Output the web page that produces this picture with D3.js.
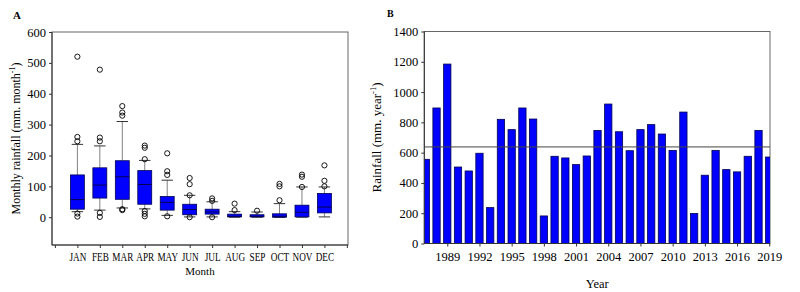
<!DOCTYPE html>
<html>
<head>
<meta charset="utf-8">
<script src="https://cdn.jsdelivr.net/npm/d3@7"></script>
<style>
  html, body { margin: 0; padding: 0; background: #fff; }
  svg text { font-family: "Liberation Serif", "Times New Roman", serif; fill: #000; }
</style>
</head>
<body>
<div id="chart"></div>
<script>
/* =========================
   Data
========================= */
// Panel A: monthly rainfall box plots (mm/month)
const months = ["JAN", "FEB", "MAR", "APR", "MAY", "JUN", "JUL", "AUG", "SEP", "OCT", "NOV", "DEC"];
const q1 = [26, 62, 58, 42, 23, 8, 10, 1, 1, 0, 1, 14];
const medians = [57, 104, 131, 106, 48, 25, 17, 3, 3, 3, 16, 33];
const q3 = [137, 160, 183, 151, 67, 42, 26, 10, 8, 11, 39, 77];
const whiskerLow = [18, 23, 30, 27, 6, 1, 1, 0, 0, 0, 0, 1];
const whiskerHigh = [236, 231, 310, 184, 120, 71, 50, 18, 17, 44, 98, 98];
const outliers = [
    [520, 260, 246, 12, 2],
    [478, 258, 246, 14, 1],
    [360, 339, 329, 26, 23],
    [232, 225, 188, 20, 11, 3],
    [207, 149, 137, 3],
    [127, 107, 71, 0],
    [61, 53, 0],
    [44, 23],
    [21],
    [108, 100, 55],
    [138, 131, 98],
    [168, 118, 100]
];
const monthTicksA = [0, 100, 200, 300, 400, 500, 600];

// Panel B: annual rainfall (mm/year)
const years = [1987, 1988, 1989, 1990, 1991, 1992, 1993, 1994, 1995, 1996, 1997,
    1998, 1999, 2000, 2001, 2002, 2003, 2004, 2005, 2006, 2007, 2008,
    2009, 2010, 2011, 2012, 2013, 2014, 2015, 2016, 2017, 2018, 2019];
const annualRain = [556, 895, 1185, 505, 479, 596, 237, 820, 752, 895, 822,
    182, 576, 565, 521, 578, 747, 921, 738, 613, 752, 785,
    723, 615, 868, 198, 451, 615, 488, 473, 576, 747, 571];
const yearTicks = [1989, 1992, 1995, 1998, 2001, 2004, 2007, 2010, 2013, 2016, 2019];
const rainTicksB = [0, 200, 400, 600, 800, 1000, 1200, 1400];

/* =========================
   SVG
========================= */
const W = 800, H = 292;
const svg = d3.select("#chart").append("svg")
    .attr("width", W).attr("height", H);
svg.append("rect").attr("width", W).attr("height", H).attr("fill", "#fff");

const BLUE = "#0000ff";
const FRAME = "#666";

function styleAxis(g) {
    g.select(".domain").remove();
    g.selectAll(".tick line").attr("stroke", "#333");
    g.selectAll(".tick text").attr("fill", "#000");
}

/* =========================
   Panel A: box plots
========================= */
const A = { left: 52, right: 348, top: 32, bottom: 245 };
const xA = d3.scaleLinear().domain([-0.13, 13.05]).range([A.left, A.right]);
const yA = d3.scaleLinear().domain([-90, 600]).range([A.bottom, A.top]);

const gA = svg.append("g");

gA.append("rect")
    .attr("x", A.left).attr("y", A.top)
    .attr("width", A.right - A.left).attr("height", A.bottom - A.top)
    .attr("fill", "none").attr("stroke", FRAME).attr("stroke-width", 1);

const yAxisA = gA.append("g")
    .attr("transform", `translate(${A.left},0)`)
    .call(d3.axisLeft(yA).tickValues(monthTicksA).tickSize(3).tickPadding(3));
styleAxis(yAxisA);
yAxisA.selectAll(".tick text").attr("font-size", 12.5);

const xAxisA = gA.append("g")
    .attr("transform", `translate(0,${A.bottom})`)
    .call(d3.axisBottom(xA)
        .tickValues(d3.range(0, 14))
        .tickFormat(i => (i >= 1 && i <= 12) ? months[i - 1] : "")
        .tickSize(3).tickPadding(5));
styleAxis(xAxisA);
// month labels look narrow in the original figure
xAxisA.selectAll(".tick text")
    .attr("font-size", 11.5)
    .attr("transform", "scale(0.8,1)");

gA.append("line")
    .attr("x1", A.left).attr("x2", A.left).attr("y1", A.top).attr("y2", A.bottom)
    .attr("stroke", "#333");
gA.append("line")
    .attr("x1", A.left).attr("x2", A.right).attr("y1", A.bottom).attr("y2", A.bottom)
    .attr("stroke", "#333");

const step = xA(1) - xA(0);
const boxW = step * 0.62;
const capW = boxW * 0.82;

const boxes = gA.selectAll(".box")
    .data(months.map((m, i) => ({
        i: i + 1, q1: q1[i], med: medians[i], q3: q3[i],
        lo: whiskerLow[i], hi: whiskerHigh[i], out: outliers[i]
    })))
    .enter().append("g").attr("class", "box");

// whiskers
boxes.append("line")
    .attr("x1", d => xA(d.i)).attr("x2", d => xA(d.i))
    .attr("y1", d => yA(d.hi)).attr("y2", d => yA(d.q3))
    .attr("stroke", "#808080").attr("stroke-width", 1);
boxes.append("line")
    .attr("x1", d => xA(d.i)).attr("x2", d => xA(d.i))
    .attr("y1", d => yA(d.lo)).attr("y2", d => yA(d.q1))
    .attr("stroke", "#808080").attr("stroke-width", 1);
// caps
boxes.append("line")
    .attr("x1", d => xA(d.i) - capW / 2).attr("x2", d => xA(d.i) + capW / 2)
    .attr("y1", d => yA(d.hi)).attr("y2", d => yA(d.hi))
    .attr("stroke", "#333").attr("stroke-width", 1);
boxes.append("line")
    .attr("x1", d => xA(d.i) - capW / 2).attr("x2", d => xA(d.i) + capW / 2)
    .attr("y1", d => yA(d.lo)).attr("y2", d => yA(d.lo))
    .attr("stroke", "#333").attr("stroke-width", 1);
// box
boxes.append("rect")
    .attr("x", d => xA(d.i) - boxW / 2)
    .attr("width", boxW)
    .attr("y", d => yA(d.q3))
    .attr("height", d => Math.max(1.5, yA(d.q1) - yA(d.q3)))
    .attr("fill", BLUE).attr("stroke", "#000050").attr("stroke-width", 0.8);
// median
boxes.append("line")
    .attr("x1", d => xA(d.i) - boxW / 2).attr("x2", d => xA(d.i) + boxW / 2)
    .attr("y1", d => yA(d.med)).attr("y2", d => yA(d.med))
    .attr("stroke", "#000050").attr("stroke-width", 1);
// outliers
boxes.selectAll(".out")
    .data(d => d.out.map(v => ({ i: d.i, v })))
    .enter().append("circle")
    .attr("cx", d => xA(d.i)).attr("cy", d => yA(d.v))
    .attr("r", 2.6)
    .attr("fill", "none").attr("stroke", "#000").attr("stroke-width", 0.9);

gA.append("text")
    .attr("x", 13).attr("y", 19)
    .attr("font-size", 11).attr("font-weight", "bold").text("A");

gA.append("text")
    .attr("x", (A.left + A.right) / 2).attr("y", 275)
    .attr("text-anchor", "middle").attr("font-size", 11).text("Month");

const yLabA = gA.append("text")
    .attr("transform", `translate(20,${(A.top + A.bottom) / 2}) rotate(-90)`)
    .attr("text-anchor", "middle").attr("font-size", 12);
yLabA.append("tspan").text("Monthly rainfall (mm. month");
yLabA.append("tspan").attr("font-size", 8).attr("dy", -5).text("-1");
yLabA.append("tspan").attr("dy", 5).text(")");

/* =========================
   Panel B: annual bars
========================= */
const B = { left: 424.3, right: 770, top: 31.5, bottom: 243.5 };
const xB = d3.scaleLinear().domain([1986.86, 2019.07]).range([B.left, B.right]);
const yB = d3.scaleLinear().domain([0, 1400]).range([B.bottom, B.top]);

const gB = svg.append("g");

gB.append("rect")
    .attr("x", B.left).attr("y", B.top)
    .attr("width", B.right - B.left).attr("height", B.bottom - B.top)
    .attr("fill", "none").attr("stroke", FRAME).attr("stroke-width", 1);

svg.append("clipPath").attr("id", "clipB")
    .append("rect")
    .attr("x", B.left).attr("y", B.top)
    .attr("width", B.right - B.left).attr("height", B.bottom - B.top);

const barW = (xB(1) - xB(0)) * 0.68;

gB.append("g").attr("clip-path", "url(#clipB)")
    .selectAll(".bar")
    .data(years.map((y, i) => ({ year: y, value: annualRain[i] })))
    .enter().append("rect")
    .attr("class", "bar")
    .attr("x", d => xB(d.year) - barW / 2)
    .attr("width", barW)
    .attr("y", d => yB(d.value))
    .attr("height", d => yB(0) - yB(d.value))
    .attr("fill", BLUE).attr("stroke", "#000050").attr("stroke-width", 0.8);

const meanRain = d3.mean(annualRain);
gB.append("line")
    .attr("x1", B.left).attr("x2", B.right)
    .attr("y1", yB(meanRain)).attr("y2", yB(meanRain))
    .attr("stroke", "#444").attr("stroke-width", 1);

const yAxisB = gB.append("g")
    .attr("transform", `translate(${B.left},0)`)
    .call(d3.axisLeft(yB).tickValues(rainTicksB).tickFormat(d3.format("d"))
        .tickSize(3).tickPadding(3));
styleAxis(yAxisB);
yAxisB.selectAll(".tick text").attr("font-size", 12.5);

const xAxisB = gB.append("g")
    .attr("transform", `translate(0,${B.bottom})`)
    .call(d3.axisBottom(xB).tickValues(yearTicks).tickFormat(d3.format("d"))
        .tickSize(3).tickPadding(6));
styleAxis(xAxisB);
xAxisB.selectAll(".tick text").attr("font-size", 12.5);

gB.append("line")
    .attr("x1", B.left).attr("x2", B.left).attr("y1", B.top).attr("y2", B.bottom)
    .attr("stroke", "#333");
gB.append("line")
    .attr("x1", B.left).attr("x2", B.right).attr("y1", B.bottom).attr("y2", B.bottom)
    .attr("stroke", "#333");

gB.append("text")
    .attr("x", 387).attr("y", 17)
    .attr("font-size", 10).attr("font-weight", "bold").text("B");

gB.append("text")
    .attr("x", (B.left + B.right) / 2).attr("y", 288)
    .attr("text-anchor", "middle").attr("font-size", 12.5).text("Year");

const yLabB = gB.append("text")
    .attr("transform", `translate(381,${(B.top + B.bottom) / 2}) rotate(-90)`)
    .attr("text-anchor", "middle").attr("font-size", 13);
yLabB.append("tspan").text("Rainfall (mm. year");
yLabB.append("tspan").attr("font-size", 8.5).attr("dy", -5).text("-1");
yLabB.append("tspan").attr("dy", 5).text(")");
</script>
</body>
</html>
